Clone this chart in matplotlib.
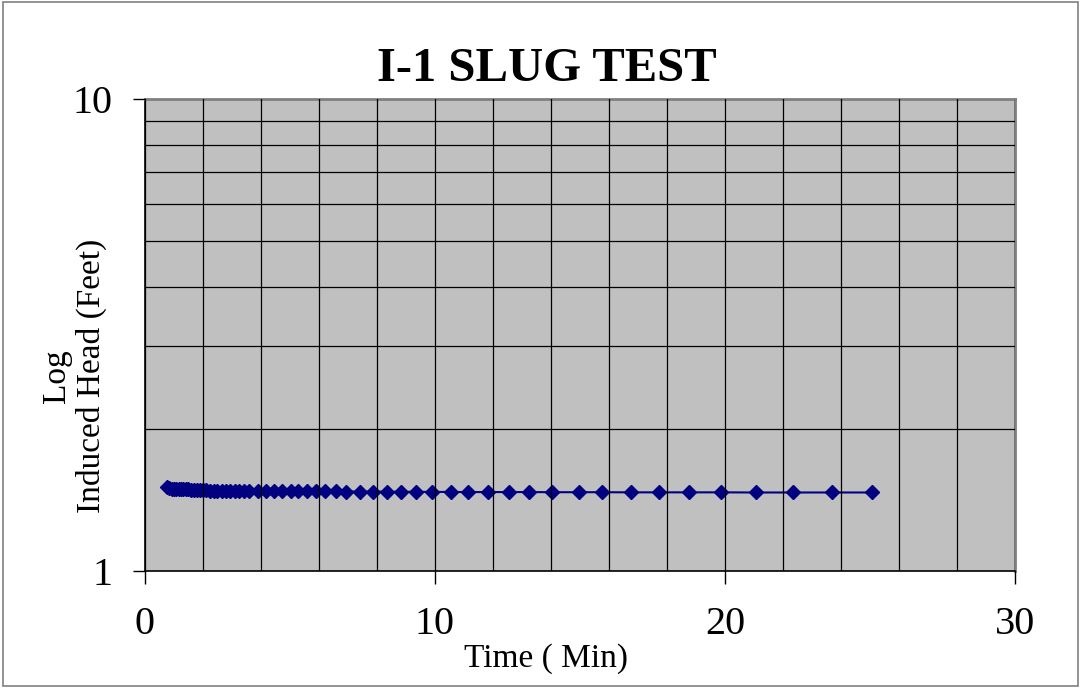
import matplotlib.pyplot as plt
from matplotlib.patches import Rectangle
from matplotlib.ticker import FixedLocator, MultipleLocator, NullFormatter

# slug test readings
time_min = [0.75, 0.83, 0.92, 1.00, 1.08, 1.17, 1.25, 1.33, 1.42, 1.50,
            1.60, 1.70, 1.80, 1.90, 2.00, 2.12, 2.25, 2.38, 2.50, 2.65,
            2.80, 2.95, 3.10, 3.25, 3.42, 3.59, 3.89, 4.16, 4.46, 4.73,
            5.03, 5.29, 5.58, 5.89, 6.21, 6.58, 6.92, 7.41, 7.85, 8.34,
            8.83, 9.34, 9.89, 10.55, 11.15, 11.84, 12.55, 13.25, 14.04, 14.97,
            15.75, 16.75, 17.74, 18.75, 19.85, 21.06, 22.35, 23.68, 25.06]
head_ft = [1.51, 1.50, 1.49, 1.49, 1.49, 1.49, 1.49, 1.49, 1.49, 1.49,
           1.485, 1.485, 1.485, 1.485, 1.485, 1.485, 1.48, 1.48, 1.48, 1.48,
           1.48, 1.48, 1.48, 1.48, 1.48, 1.478, 1.478, 1.478, 1.478, 1.477,
           1.477, 1.476, 1.476, 1.475, 1.475, 1.475, 1.474, 1.474, 1.473, 1.473,
           1.472, 1.472, 1.471, 1.471, 1.470, 1.470, 1.470, 1.470, 1.469, 1.469,
           1.469, 1.468, 1.468, 1.468, 1.468, 1.467, 1.467, 1.467, 1.467]

x_ticks = [0, 10, 20, 30]
y_ticks = [1, 10]

plt.rcParams['font.family'] = ['Liberation Serif', 'DejaVu Serif']

fig = plt.figure(figsize=(10.81, 6.88), dpi=100)
fig.patches.append(Rectangle((0.003, 0.003), 0.994, 0.994, transform=fig.transFigure,
                             fill=False, edgecolor='#808080', linewidth=1.2))
ax = fig.add_axes([0.134, 0.170, 0.805, 0.686])
ax.set_facecolor('#C0C0C0')

ax.plot(time_min, head_ft, color='#000080', linewidth=1.5,
        marker='D', markersize=7.2, markeredgecolor='#000080')

ax.set_yscale('log')
ax.set_xlim(0, 30)
ax.set_ylim(1, 10)

ax.xaxis.set_major_locator(FixedLocator(x_ticks))
ax.xaxis.set_minor_locator(MultipleLocator(2))
ax.yaxis.set_major_locator(FixedLocator(y_ticks))
ax.yaxis.set_minor_locator(FixedLocator([2, 3, 4, 5, 6, 7, 8, 9]))
ax.yaxis.set_minor_formatter(NullFormatter())
ax.set_yticklabels(['1', '10'])
ax.set_xticklabels([str(v) for v in x_ticks])

ax.grid(True, which='minor', axis='both', color='black', linewidth=0.9)
ax.grid(True, which='major', axis='x', color='black', linewidth=0.9)
ax.set_axisbelow(False)

ax.tick_params(axis='both', which='major', direction='out', length=9,
               width=1, labelsize=29, color='black')
ax.tick_params(axis='x', which='major', pad=16)
ax.tick_params(axis='y', which='major', pad=14)
ax.tick_params(axis='both', which='minor', length=0)

for side in ['top', 'right']:
    ax.spines[side].set_color('#808080')
    ax.spines[side].set_linewidth(2)
for side in ['left', 'bottom']:
    ax.spines[side].set_color('black')
    ax.spines[side].set_linewidth(1.2)

ax.set_title('I-1 SLUG TEST', fontsize=35, fontweight='bold', pad=13, x=0.462)
ax.set_xlabel('Time ( Min)', fontsize=24)
ax.xaxis.set_label_coords(0.461, -0.152)
ax.set_ylabel('Log\nInduced Head (Feet)', fontsize=24, linespacing=1.15)
ax.yaxis.set_label_coords(-0.044, 0.413)

plt.savefig('out.png', dpi=100)
plt.close()
